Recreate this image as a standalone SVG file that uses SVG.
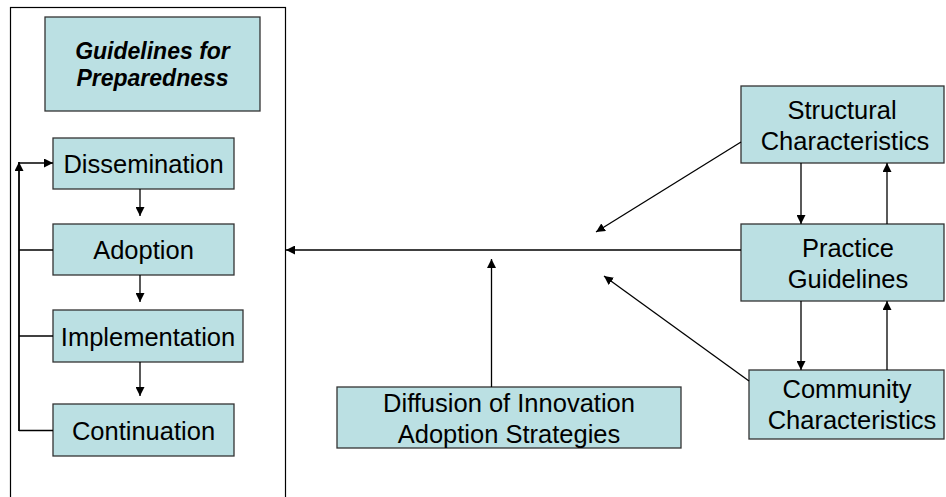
<svg xmlns="http://www.w3.org/2000/svg" width="946" height="497" viewBox="0 0 946 497">
  <defs>
    <marker id="arrow" viewBox="0 0 10 10" refX="10" refY="5" markerWidth="9" markerHeight="9" markerUnits="userSpaceOnUse" orient="auto">
      <path d="M0,0 L10,5 L0,10 z" fill="#000"/>
    </marker>
    <style>
      .box { fill: #BBE0E3; stroke: #333; stroke-width: 1.3; }
      .frame { fill: none; stroke: #000; stroke-width: 1.2; }
      .lbl { font-family: "Liberation Sans", Arial, sans-serif; font-size: 25.5px; fill: #000; text-anchor: middle; }
      .title { font-family: "Liberation Sans", Arial, sans-serif; font-size: 23px; font-weight: bold; font-style: italic; fill: #000; text-anchor: middle; }
      .conn { fill: none; stroke: #000; stroke-width: 1.3; }
      .arr { marker-end: url(#arrow); }
    </style>
  </defs>

  <rect width="946" height="497" fill="#fff"/>

  <!-- outer panel holding the preparedness stages -->
  <rect id="panel" class="frame" x="10.5" y="7.5" width="275" height="500"/>

  <g id="guidelines">
    <rect class="box" x="45" y="17" width="215" height="94"/>
    <text class="title" x="152.5" y="59">Guidelines for</text>
    <text class="title" x="152.5" y="86">Preparedness</text>
  </g>

  <g id="dissemination">
    <rect class="box" x="53" y="138" width="181" height="51"/>
    <text class="lbl" x="143.5" y="172.5">Dissemination</text>
  </g>

  <g id="adoption">
    <rect class="box" x="53" y="224" width="181" height="51"/>
    <text class="lbl" x="143.5" y="258.5">Adoption</text>
  </g>

  <g id="implementation">
    <rect class="box" x="53" y="310" width="190" height="52"/>
    <text class="lbl" x="148" y="345.5">Implementation</text>
  </g>

  <g id="continuation">
    <rect class="box" x="53" y="404" width="181" height="52"/>
    <text class="lbl" x="143.5" y="439.5">Continuation</text>
  </g>

  <g id="structural">
    <rect class="box" x="741" y="86" width="203" height="77"/>
    <text class="lbl" x="842" y="119">Structural</text>
    <text class="lbl" x="845" y="149.5">Characteristics</text>
  </g>

  <g id="practice">
    <rect class="box" x="741" y="224" width="203" height="77"/>
    <text class="lbl" x="848" y="257">Practice</text>
    <text class="lbl" x="848" y="287.5">Guidelines</text>
  </g>

  <g id="community">
    <rect class="box" x="749" y="370" width="195" height="69"/>
    <text class="lbl" x="847" y="397.5">Community</text>
    <text class="lbl" x="852" y="428.5">Characteristics</text>
  </g>

  <g id="diffusion">
    <rect class="box" x="337" y="387" width="344" height="61"/>
    <text class="lbl" x="509" y="412">Diffusion of Innovation</text>
    <text class="lbl" x="509" y="442.5">Adoption Strategies</text>
  </g>

  <g id="connectors">
    <!-- stage sequence -->
    <line class="conn arr" x1="140" y1="189" x2="140" y2="216"/>
    <line class="conn arr" x1="140" y1="275" x2="140" y2="302"/>
    <line class="conn arr" x1="140" y1="362" x2="140" y2="396"/>

    <!-- feedback loop back to dissemination -->
    <line class="conn" x1="19" y1="250" x2="53" y2="250"/>
    <line class="conn" x1="19" y1="336" x2="53" y2="336"/>
    <line class="conn" x1="19" y1="430.5" x2="53" y2="430.5"/>
    <line class="conn arr" x1="19" y1="431" x2="19" y2="162" style="stroke-width:1.8"/>
    <line class="conn arr" x1="19" y1="163" x2="53" y2="163"/>

    <!-- practice guidelines into the preparedness panel -->
    <line class="conn arr" x1="741" y1="250" x2="286" y2="250"/>

    <!-- diffusion strategies acting on the main flow -->
    <line class="conn arr" x1="491.5" y1="387" x2="491.5" y2="259"/>

    <!-- characteristics acting on the main flow -->
    <line class="conn arr" x1="741" y1="142" x2="596" y2="232"/>
    <line class="conn arr" x1="749" y1="381" x2="604" y2="276"/>

    <!-- exchanges between right-hand boxes -->
    <line class="conn arr" x1="801" y1="163" x2="801" y2="224"/>
    <line class="conn arr" x1="887" y1="224" x2="887" y2="163"/>
    <line class="conn arr" x1="801" y1="301" x2="801" y2="370"/>
    <line class="conn arr" x1="887" y1="370" x2="887" y2="301"/>
  </g>
</svg>
